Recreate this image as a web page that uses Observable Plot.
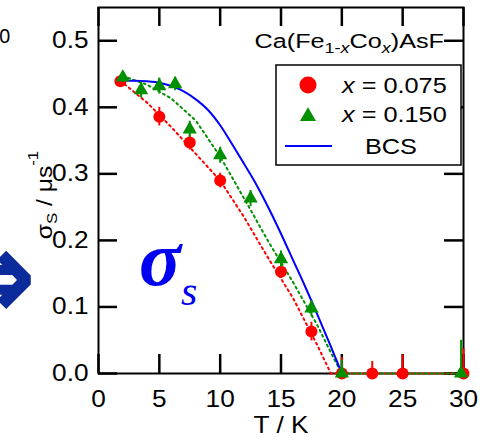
<!DOCTYPE html>
<html>
<head>
<meta charset="utf-8">
<script src="https://cdn.jsdelivr.net/npm/d3@7"></script>
<script src="https://cdn.jsdelivr.net/npm/@observablehq/plot@0.6"></script>
<style>
  html, body { margin: 0; padding: 0; background: white; }
</style>
</head>
<body>
<div id="chart"></div>
<script>
// ---- data ----
const xTicks = [0, 5, 10, 15, 20, 25, 30];
const yTicks = [0.0, 0.1, 0.2, 0.3, 0.4, 0.5];

// x = 0.075 (red circles)
const redT = [1.8, 5, 7.5, 10, 15, 17.5, 20, 22.5, 25, 30];
const redS = [0.439, 0.386, 0.347, 0.290, 0.153, 0.063, 0, 0, 0, 0];
const redE = [0.006, 0.014, 0.011, 0.011, 0.010, 0.014, 0.024, 0.018, 0.028, 0.037];

// x = 0.150 (green triangles)
const greenT = [2, 3.5, 5, 6.3, 7.5, 10, 12.5, 15, 17.5, 20, 29.8];
const greenS = [0.445, 0.426, 0.432, 0.435, 0.367, 0.328, 0.263, 0.172, 0.098, 0, 0];
const greenE = [0.008, 0.012, 0.012, 0.010, 0.012, 0.012, 0.012, 0.012, 0.012, 0.020, 0.050];

// dotted fit curves
const redFitT = [1.8, 4, 6, 8, 10, 12, 14, 16, 18, 19.1, 30];
const redFitS = [0.440, 0.407, 0.370, 0.330, 0.290, 0.234, 0.172, 0.113, 0.042, 0, 0];
const greenFitT = [2, 4, 6, 8, 10, 12, 14, 16, 18, 19.3, 20, 30];
const greenFitS = [0.447, 0.434, 0.413, 0.380, 0.326, 0.262, 0.197, 0.137, 0.072, 0.024, 0, 0];

// BCS curve
const bcsT = [1.8, 3, 4, 5, 6, 7, 8, 9, 10, 11, 12, 13, 14, 15, 16, 17, 18, 19, 20];
const bcsS = [0.440, 0.440, 0.439, 0.437, 0.432, 0.424, 0.412, 0.396, 0.373, 0.344, 0.314, 0.283, 0.248, 0.210, 0.170, 0.130, 0.088, 0.045, 0];

const RED = "#ff0000", GREEN = "#009000", BLUE = "#0000ff";

const zip = (T, S, E) => T.map((t, i) => ({T: t, S: S[i], E: E ? E[i] : 0}));
const red = zip(redT, redS, redE);
const green = zip(greenT, greenS, greenE);
const redFit = zip(redFitT, redFitS);
const greenFit = zip(greenFitT, greenFitS);
const bcs = zip(bcsT, bcsS);

// layout (pixels)
const W = 490, H = 438, ML = 98, MR = 27, MT = 7, MB = 65, TICK = 19;
const frameW = W - ML - MR, frameH = H - MT - MB;

const chart = Plot.plot({
  width: W,
  height: H,
  marginLeft: ML,
  marginRight: MR,
  marginTop: MT,
  marginBottom: MB,
  style: {fontFamily: "Liberation Sans, Arial, sans-serif", fontSize: "23px", background: "white", color: "black"},
  x: {domain: [0, 30], ticks: xTicks},
  y: {domain: [0, 0.55], ticks: yTicks, tickFormat: d3.format(".1f")},
  marks: [
    Plot.frame({stroke: "black", strokeWidth: 2}),
    // inward ticks on all four sides
    Plot.tickX(xTicks, {x: d => d, insetTop: frameH - TICK, stroke: "black", strokeWidth: 2.5}),
    Plot.tickX(xTicks, {x: d => d, insetBottom: frameH - TICK, stroke: "black", strokeWidth: 2.5}),
    Plot.tickY(yTicks, {y: d => d, insetRight: frameW - TICK, stroke: "black", strokeWidth: 2.5}),
    Plot.tickY(yTicks, {y: d => d, insetLeft: frameW - TICK, stroke: "black", strokeWidth: 2.5}),
    Plot.line(redFit, {x: "T", y: "S", stroke: RED, strokeWidth: 2, strokeDasharray: "2,3.5"}),
    Plot.line(greenFit, {x: "T", y: "S", stroke: GREEN, strokeWidth: 2, strokeDasharray: "2,3.5"}),
    Plot.line(bcs, {x: "T", y: "S", stroke: BLUE, strokeWidth: 2, curve: "monotone-x"}),
    Plot.ruleX(red, {x: "T", y1: d => Math.max(0, d.S - d.E), y2: d => d.S + d.E, stroke: RED, strokeWidth: 2}),
    Plot.dot(red, {x: "T", y: "S", r: 6, fill: RED, symbol: "circle"}),
    Plot.ruleX(green, {x: "T", y1: d => Math.max(0, d.S - d.E), y2: d => d.S + d.E, stroke: GREEN, strokeWidth: 2}),
    Plot.dot(green, {x: "T", y: "S", r: 5.3, fill: GREEN, symbol: "triangle"}),
    Plot.axisX({anchor: "bottom", ticks: xTicks, tickSize: 0, tickPadding: 17, label: null}),
    Plot.axisY({anchor: "left", ticks: yTicks, tickSize: 0, tickPadding: 10, tickFormat: d3.format(".1f"), label: null})
  ]
});

document.getElementById("chart").appendChild(chart);
const svg = d3.select(chart);

// widen tick label glyphs like the reference font
svg.selectAll("text").each(function() {
  const t = this.getAttribute("transform") || "";
  this.setAttribute("transform", t + " scale(1.14,1)");
});

const SANS = "Liberation Sans, Arial, sans-serif";

// x-axis title
svg.append("text")
  .attr("transform", "translate(281,433) scale(1.14,1)")
  .attr("text-anchor", "middle")
  .attr("font-family", SANS).attr("font-size", 23)
  .text("T / K");

// y-axis title: σS / μs-1
const yl = svg.append("text")
  .attr("transform", "translate(52,195) rotate(-90) scale(1.12,1)")
  .attr("text-anchor", "middle")
  .attr("font-family", SANS).attr("font-size", 22);
yl.append("tspan").text("σ");
yl.append("tspan").attr("font-size", 15).attr("dy", 5).text("S");
yl.append("tspan").attr("dy", -5).text(" / μs");
yl.append("tspan").attr("font-size", 15).attr("dy", -14).text("-1");

// compound title
const tt = svg.append("text")
  .attr("transform", "translate(444,48) scale(1.2,1)")
  .attr("text-anchor", "end")
  .attr("font-family", SANS).attr("font-size", 21);
tt.append("tspan").text("Ca(Fe");
tt.append("tspan").attr("font-size", 15).attr("dy", 5).text("1-");
tt.append("tspan").attr("font-size", 15).attr("font-style", "italic").text("x");
tt.append("tspan").attr("dy", -5).text("Co");
tt.append("tspan").attr("font-size", 15).attr("dy", 5).attr("font-style", "italic").text("x");
tt.append("tspan").attr("dy", -5).text(")AsF");

// legend
const lg = svg.append("g");
lg.append("rect").attr("x", 276).attr("y", 65).attr("width", 185).attr("height", 100)
  .attr("fill", "white").attr("stroke", "black").attr("stroke-width", 1.5);
lg.append("circle").attr("cx", 308).attr("cy", 85).attr("r", 8.5).attr("fill", RED);
lg.append("path").attr("d", d3.symbol(d3.symbolTriangle, 111)())
  .attr("transform", "translate(308,116.5)").attr("fill", GREEN);
lg.append("line").attr("x1", 285).attr("x2", 332).attr("y1", 146).attr("y2", 146)
  .attr("stroke", BLUE).attr("stroke-width", 2);
const legendLabels = [["0.075", 93], ["0.150", 122]];
legendLabels.forEach(([v, y]) => {
  const t = lg.append("text").attr("transform", `translate(342,${y}) scale(1.15,1)`)
    .attr("text-anchor", "start")
    .attr("font-family", SANS).attr("font-size", 22);
  t.append("tspan").attr("font-style", "italic").text("x");
  t.append("tspan").text(" = " + v);
});
lg.append("text").attr("transform", "translate(365,154) scale(1.15,1)")
  .attr("text-anchor", "start")
  .attr("font-family", SANS).attr("font-size", 22).text("BCS");

// big σs annotation
const sg = svg.append("text")
  .attr("x", 139).attr("y", 285)
  .attr("text-anchor", "start")
  .attr("font-family", "Liberation Serif, Times New Roman, serif")
  .attr("font-style", "italic").attr("font-weight", "bold")
  .attr("fill", "#0000f0").attr("font-size", 78);
sg.append("tspan").text("σ");
sg.append("tspan").attr("font-size", 42).attr("font-weight", "normal").attr("dy", 20).text("s");

// remnants of neighbouring panels at the left edge
svg.append("text").attr("x", -1).attr("y", 43)
  .attr("text-anchor", "start")
  .attr("font-family", "Noto Sans, sans-serif").attr("font-size", 20).text("0");
svg.append("text").attr("x", 37).attr("y", 320).attr("text-anchor", "end")
  .attr("font-family", "DejaVu Sans").attr("font-weight", "bold")
  .attr("font-size", 128).attr("fill", "#0b2a9c").text("⇒");
</script>
</body>
</html>
